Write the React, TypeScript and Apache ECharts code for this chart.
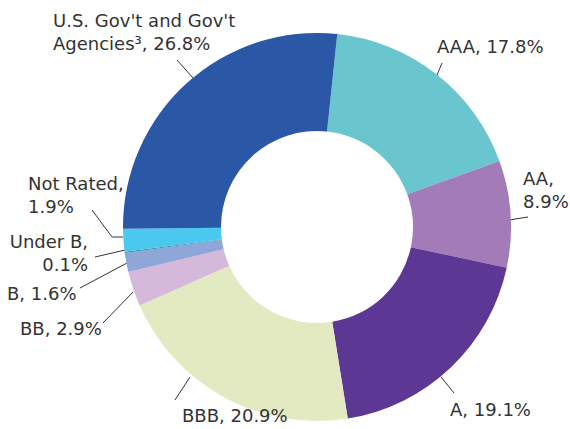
import React, { useEffect, useRef } from "react";
import * as echarts from "echarts";

// Slices in clockwise order starting just right of 12 o'clock
const categories = [
  "AAA",
  "AA",
  "A",
  "BBB",
  "BB",
  "B",
  "Under B",
  "Not Rated",
  "U.S. Gov't and Gov't Agencies³",
];
const values = [17.8, 8.9, 19.1, 20.9, 2.9, 1.6, 0.1, 1.9, 26.8];
// display break points of each label (text only)
const labelBreaks = [
  ", ",
  ",\n",
  ", ",
  ", ",
  ", ",
  ", ",
  ",\n",
  ",\n",
  ", ",
];
const colors = [
  "#69C6CF",
  "#A27BB8",
  "#5D3794",
  "#E3E9C1",
  "#D4B9DB",
  "#8FA7D8",
  "#2E8FAE",
  "#4AC8EF",
  "#2A58A6",
];

// label placement (left/top of label box, alignment) and leader lines
const labelPlace: { x: number; y: number; align: string; line: number[][] }[] = [
  { x: 437, y: 35, align: "left", line: [[442, 63], [437, 75], [437, 75]] },
  { x: 523, y: 167, align: "left", line: [[528, 217], [515, 219], [510, 220]] },
  { x: 450, y: 398, align: "left", line: [[454, 393], [441, 377], [441, 377]] },
  { x: 182, y: 404, align: "left", line: [[175, 400], [190, 377], [190, 377]] },
  { x: 20, y: 317, align: "left", line: [[103, 323], [133, 292], [133, 292]] },
  { x: 7, y: 282, align: "left", line: [[80, 288], [127, 263], [127, 263]] },
  { x: 88, y: 230, align: "right", line: [[95, 257], [125, 250], [125, 250]] },
  { x: 28, y: 172, align: "left", line: [[92, 210], [112, 237], [123, 237]] },
  { x: 53, y: 9, align: "left", line: [[177, 60], [193, 78], [193, 78]] },
];

export default function App() {
  const ref = useRef<HTMLDivElement>(null);
  useEffect(() => {
    if (!ref.current) return;
    const chart = echarts.init(ref.current, null, { renderer: "svg" });
    const data = categories.map((name, i) => ({
      name,
      value: values[i],
      itemStyle: { color: colors[i] },
    }));
    chart.setOption({
      animation: false,
      backgroundColor: "#ffffff",
      series: [
        {
          type: "pie",
          center: [317, 227],
          radius: [96, 194],
          startAngle: 84,
          clockwise: true,
          data,
          itemStyle: { borderWidth: 0 },
          emphasis: { disabled: true },
          label: {
            show: true,
            position: "outside",
            alignTo: "none",
            overflow: "none",
            color: "#333333",
            fontFamily: "DejaVu Sans",
            fontSize: 18,
            lineHeight: 23,
            formatter: (p: any) => {
              const name =
                p.dataIndex === 8
                  ? "U.S. Gov't and Gov't\nAgencies³"
                  : p.name;
              return name + labelBreaks[p.dataIndex] + p.value + "%";
            },
          },
          labelLine: {
            show: true,
            lineStyle: { color: "#333333", width: 1 },
          },
          labelLayout: (p: any) => {
            const lp = labelPlace[p.dataIndex];
            return {
              x: lp.x,
              y: lp.y,
              align: lp.align,
              verticalAlign: "top",
              labelLinePoints: lp.line,
              hideOverlap: false,
              moveOverlap: null,
            };
          },
        },
      ],
    });
    return () => chart.dispose();
  }, []);
  return (
    <div
      ref={ref}
      style={{ position: "fixed", left: 0, top: 0, width: 570, height: 429 }}
    />
  );
}
